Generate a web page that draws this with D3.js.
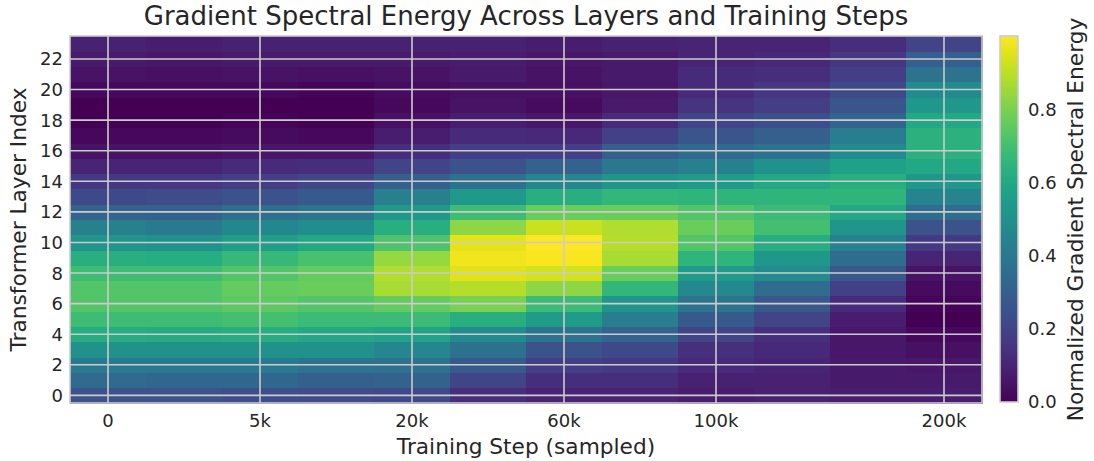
<!DOCTYPE html>
<html><head><meta charset="utf-8">
<script src="https://cdn.jsdelivr.net/npm/d3@7"></script>
<style>body{margin:0;background:#fff;} svg{display:block;font-family:"DejaVu Sans",sans-serif;}</style>
</head><body><svg id="c" width="1094" height="461"></svg>
<script>
// ---- data ----
const layers = d3.range(24);            // layer index 0..23
const stepCols = d3.range(12);          // sampled training-step columns
const xTickCols = [0, 2, 4, 6, 8, 11];
const xTickLabels = ["0", "5k", "20k", "60k", "100k", "200k"];
const yTicks = d3.range(0, 24, 2);
const cbTicks = [0, 0.2, 0.4, 0.6, 0.8];
// normalized energy per column, listed for layers 0..23
const col0  = [0.25,0.34,0.41,0.50,0.62,0.69,0.73,0.73,0.69,0.63,0.52,0.43,0.32,0.22,0.16,0.10,0.05,0.02,0.00,0.00,0.02,0.05,0.07,0.09];
const col1  = [0.25,0.33,0.41,0.50,0.61,0.69,0.73,0.73,0.69,0.62,0.51,0.41,0.31,0.23,0.16,0.10,0.05,0.02,0.00,0.00,0.02,0.04,0.06,0.08];
const col2  = [0.24,0.33,0.41,0.50,0.62,0.70,0.75,0.76,0.73,0.67,0.56,0.46,0.36,0.25,0.18,0.12,0.06,0.03,0.01,0.00,0.02,0.05,0.07,0.09];
const col3  = [0.23,0.30,0.38,0.50,0.60,0.68,0.73,0.77,0.76,0.71,0.60,0.49,0.39,0.28,0.21,0.13,0.06,0.02,0.00,0.00,0.01,0.04,0.07,0.09];
const col4  = [0.22,0.31,0.37,0.46,0.58,0.68,0.76,0.87,0.88,0.84,0.72,0.63,0.54,0.43,0.30,0.20,0.13,0.08,0.04,0.02,0.03,0.05,0.07,0.09];
const col5  = [0.13,0.20,0.28,0.37,0.48,0.63,0.80,0.89,0.95,0.98,0.96,0.83,0.69,0.54,0.37,0.25,0.18,0.12,0.08,0.05,0.04,0.07,0.08,0.09];
const col6  = [0.10,0.13,0.18,0.25,0.38,0.55,0.68,0.83,0.93,0.99,1.00,0.92,0.77,0.63,0.46,0.31,0.18,0.11,0.06,0.03,0.04,0.05,0.06,0.08];
const col7  = [0.10,0.13,0.17,0.22,0.32,0.42,0.52,0.66,0.77,0.87,0.89,0.88,0.77,0.66,0.52,0.40,0.30,0.19,0.12,0.07,0.06,0.07,0.07,0.09];
const col8  = [0.08,0.09,0.12,0.14,0.20,0.28,0.38,0.47,0.55,0.65,0.73,0.77,0.73,0.65,0.55,0.43,0.34,0.26,0.20,0.15,0.12,0.12,0.10,0.10];
const col9  = [0.09,0.09,0.10,0.11,0.14,0.20,0.27,0.35,0.48,0.53,0.62,0.70,0.68,0.65,0.60,0.50,0.38,0.30,0.24,0.18,0.16,0.13,0.11,0.10];
const col10 = [0.08,0.07,0.07,0.06,0.06,0.08,0.12,0.19,0.27,0.35,0.44,0.52,0.60,0.65,0.63,0.57,0.48,0.42,0.32,0.26,0.22,0.18,0.16,0.13];
const col11 = [0.08,0.07,0.06,0.04,0.02,0.00,0.01,0.03,0.05,0.10,0.17,0.25,0.35,0.45,0.53,0.60,0.64,0.64,0.60,0.53,0.48,0.38,0.30,0.20];
const columns = [col0,col1,col2,col3,col4,col5,col6,col7,col8,col9,col10,col11];

const cells = [];
stepCols.forEach(c => layers.forEach(l => cells.push({c, l, v: columns[c][l]})));

// ---- layout ----
const svg = d3.select("#c");
const ink = "#262626";
const gridCol = "#cccccc";
const L = 70, R = 982, T = 36, B = 403;

const x = d3.scaleBand().domain(stepCols).range([L, R]);
const y = d3.scaleBand().domain(layers).range([B, T]);
const vmin = d3.min(cells, d => d.v), vmax = d3.max(cells, d => d.v);
const color = d3.scaleSequential(d3.interpolateViridis).domain([vmin, vmax]);

svg.append("g").selectAll("rect").data(cells).join("rect")
  .attr("x", d => x(d.c)).attr("y", d => y(d.l))
  .attr("width", x.bandwidth() + 0.5).attr("height", y.bandwidth() + 0.5)
  .attr("fill", d => color(d.v))
  .attr("shape-rendering", "crispEdges");

// grid
const g = svg.append("g").attr("stroke", gridCol).attr("stroke-width", 1.6);
xTickCols.forEach(c => {
  const px = x(c) + x.bandwidth() / 2;
  g.append("line").attr("x1", px).attr("x2", px).attr("y1", T).attr("y2", B);
});
yTicks.forEach(l => {
  const py = y(l) + y.bandwidth() / 2;
  g.append("line").attr("x1", L).attr("x2", R).attr("y1", py).attr("y2", py);
});
svg.append("rect").attr("x", L).attr("y", T).attr("width", R - L).attr("height", B - T)
  .attr("fill", "none").attr("stroke", gridCol).attr("stroke-width", 1.6);

// tick labels
const tickFont = 18;
svg.append("g").selectAll("text").data(xTickCols).join("text")
  .attr("x", (c) => x(c) + x.bandwidth() / 2).attr("y", 427)
  .attr("text-anchor", "middle").attr("font-size", tickFont).attr("fill", ink)
  .text((c, i) => xTickLabels[i]);
svg.append("g").selectAll("text").data(yTicks).join("text")
  .attr("x", 63).attr("y", l => y(l) + y.bandwidth() / 2).attr("dy", "0.36em")
  .attr("text-anchor", "end").attr("font-size", tickFont).attr("fill", ink)
  .text(l => l);

// titles
const labFont = 21.7;
svg.append("text").attr("x", (L + R) / 2).attr("y", 25).attr("text-anchor", "middle")
  .attr("font-size", 26).attr("fill", ink).text("Gradient Spectral Energy Across Layers and Training Steps");
svg.append("text").attr("x", (L + R) / 2).attr("y", 454).attr("text-anchor", "middle")
  .attr("font-size", labFont).attr("fill", ink).text("Training Step (sampled)");
svg.append("text").attr("transform", `translate(26,${(T + B) / 2}) rotate(-90)`).attr("text-anchor", "middle")
  .attr("font-size", labFont).attr("fill", ink).text("Transformer Layer Index");

// colorbar
const cbX = 1000, cbW = 18;
const cy = d3.scaleLinear().domain([vmin, vmax]).range([B - 1, T]);
const defs = svg.append("defs");
const grad = defs.append("linearGradient").attr("id", "vir").attr("x1", 0).attr("y1", 1).attr("x2", 0).attr("y2", 0);
d3.range(0, 1.0001, 0.05).forEach(t => grad.append("stop").attr("offset", t).attr("stop-color", d3.interpolateViridis(t)));
svg.append("rect").attr("x", cbX).attr("y", T).attr("width", cbW).attr("height", B - 1 - T)
  .attr("fill", "url(#vir)").attr("stroke", gridCol).attr("stroke-width", 1.6);
svg.append("g").selectAll("text").data(cbTicks).join("text")
  .attr("x", 1028).attr("y", d => cy(d)).attr("dy", "0.36em")
  .attr("font-size", tickFont).attr("fill", ink).text(d => d.toFixed(1));
svg.append("text").attr("transform", `translate(1083,${(T + B) / 2}) rotate(-90)`).attr("text-anchor", "middle")
  .attr("font-size", labFont).attr("fill", ink).text("Normalized Gradient Spectral Energy");
</script></body></html>
